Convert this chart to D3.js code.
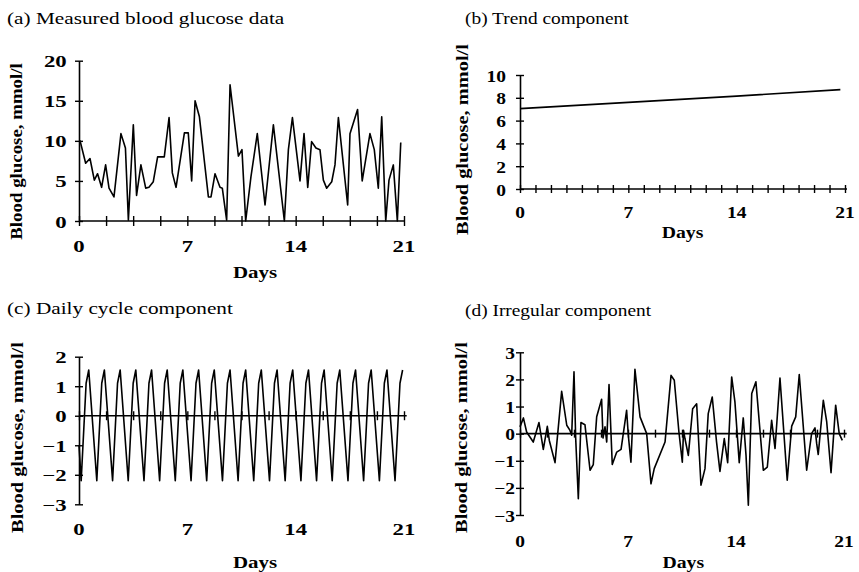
<!DOCTYPE html>
<html>
<head>
<meta charset="utf-8">
<script src="https://cdn.jsdelivr.net/npm/d3@7"></script>
<style>
  body { margin: 0; background: #fff; }
  svg { display: block; font-family: "Liberation Serif", "Times New Roman", serif; }
</style>
</head>
<body>
<svg id="chart" width="859" height="572"></svg>
<script>
// (a) measured readings
const measuredDays = [0, 0.07, 0.43, 0.71, 0.99, 1.2, 1.46, 1.72, 1.94, 2.26, 2.71, 3.0, 3.19, 3.51, 3.72,
  4.0, 4.31, 4.52, 4.8, 5.08, 5.51, 5.82, 6.03, 6.27, 6.81, 7.06, 7.28, 7.5, 7.78, 8.36,
  8.53, 8.79, 9.11, 9.26, 9.54, 9.76, 10.3, 10.53, 10.77, 11.11, 11.52, 12.02, 12.56, 13.27, 13.53,
  13.79, 14.28, 14.54, 14.78, 15.03, 15.31, 15.57, 15.79, 16.0, 16.33, 16.54, 16.76, 17.36, 17.51, 18.0,
  18.3, 18.8, 19.08, 19.34, 19.56, 19.82, 20.03, 20.31, 20.57, 20.79];
const measuredGlucose = [10, 10, 7.2, 7.8, 5.1, 5.9, 4.2, 7.0, 4.1, 3.0, 10.9, 9.1, 0.1, 12.0, 3.2,
  7.0, 4.1, 4.2, 4.9, 8.0, 8.0, 12.9, 6.0, 4.2, 11.0, 11.0, 5.0, 15.0, 13.0, 3.0,
  3.0, 5.9, 4.2, 4.1, 0.1, 17.0, 8.1, 8.9, 0, 5.5, 10.9, 2.0, 12.0, 0, 8.9,
  12.9, 5.0, 10.9, 4.2, 9.9, 9.1, 8.9, 5.1, 4.1, 4.9, 7.0, 12.9, 2.0, 10.9, 13.9,
  5.0, 10.9, 8.9, 4.1, 13.0, 0, 5.1, 7.0, 0, 9.8];

// (b) trend
const trendDays = [0, 7, 14, 20.7];
const trendGlucose = [7.05, 7.6, 8.15, 8.72];

// (c) daily cycle
const cycleDays = [0, 0.14, 0.46, 0.63, 1.15, 1.47, 1.64, 2.17, 2.49, 2.66, 3.18, 3.50, 3.67,
  4.20, 4.52, 4.69, 5.21, 5.53, 5.70, 6.22, 6.54, 6.71, 7.24, 7.56, 7.73, 8.25, 8.57, 8.74,
  9.27, 9.59, 9.76, 10.28, 10.60, 10.77, 11.29, 11.61, 11.78, 12.31, 12.63, 12.80,
  13.32, 13.64, 13.81, 14.34, 14.66, 14.83, 15.35, 15.67, 15.84, 16.36, 16.68, 16.85,
  17.38, 17.70, 17.87, 18.39, 18.71, 18.88, 19.41, 19.73, 19.90, 20.42, 20.74, 20.91];
const cycleGlucose = [-1.0, -2.2, 1.1, 1.55, -2.2, 1.1, 1.55, -2.2, 1.1, 1.55, -2.2, 1.1, 1.55,
  -2.2, 1.1, 1.55, -2.2, 1.1, 1.55, -2.2, 1.1, 1.55, -2.2, 1.1, 1.55, -2.2, 1.1, 1.55,
  -2.2, 1.1, 1.55, -2.2, 1.1, 1.55, -2.2, 1.1, 1.55, -2.2, 1.1, 1.55,
  -2.2, 1.1, 1.55, -2.2, 1.1, 1.55, -2.2, 1.1, 1.55, -2.2, 1.1, 1.55,
  -2.2, 1.1, 1.55, -2.2, 1.1, 1.55, -2.2, 1.1, 1.55, -2.2, 1.1, 1.55];

// (d) irregular component
const irregularDays = [0, 0.22, 0.43, 0.86, 1.23, 1.51, 1.77, 1.9, 2.27, 2.7, 3.03, 3.24, 3.35, 3.5, 3.61,
  3.78, 3.95, 4.21, 4.54, 4.75, 4.97, 5.29, 5.38, 5.51, 5.62, 5.77, 5.98, 6.27, 6.55, 6.91,
  7.02, 7.19, 7.45, 7.78, 8.21, 8.49, 8.7, 9.4, 9.79, 10.0, 10.3, 10.52, 10.6, 10.69, 10.91,
  11.19, 11.45, 11.73, 11.99, 12.2, 12.46, 12.74, 12.96, 13.24, 13.46, 13.72, 13.93, 14.21, 14.47, 14.65,
  14.8, 15.02, 15.29, 15.77, 16.03, 16.31, 16.53, 16.85, 17.32, 17.61, 17.87, 18.1, 18.58, 18.9, 19.12,
  19.23, 19.33, 19.66, 19.88, 20.16, 20.46, 20.69, 20.89];
const irregularGlucose = [0.25, 0.58, 0.06, -0.31, 0.41, -0.58, 0.27, -0.25, -1.07, 1.56, 0.31, 0.12, -0.06, 2.28, -0.18,
  -2.4, 0.41, 0.33, -1.35, -1.14, 0.62, 1.27, -0.16, 0.25, -0.31, 1.81, -1.14, -0.68, -0.58, 0.86,
  -0.06, -1.05, 2.37, 0.62, 0.0, -1.85, -1.29, -0.31, 2.15, 1.97, 0.06, -1.05, 0.12, -0.18, -0.8,
  0.92, 1.1, -1.9, -1.29, 0.74, 1.35, -0.31, -1.39, -0.18, -1.07, 2.09, 1.17, -1.07, 0.58, -0.8,
  -2.64, 1.48, 1.91, -1.35, -1.23, 0.49, -0.55, 2.05, -1.72, 0.28, 0.62, 2.18, -1.35, 0.0, 0.21,
  -0.37, -0.77, 1.23, 0.43, -1.44, 1.05, 0.0, -0.25];

const dayLabels = [0, 7, 14, 21];
const weekTicks = d3.range(0, 21.01, 1.75);
const dailyTicks = d3.range(0, 22, 1);

const svg = d3.select("#chart");

// text stretched sideways like the scanned original
function label(g, str, x, y, opts) {
  return g.append("text")
    .attr("transform", `translate(${x},${y}) rotate(${opts.rotate || 0}) scale(${opts.sx || 1},1)`)
    .attr("text-anchor", opts.anchor || "start")
    .attr("font-size", opts.size || 17)
    .attr("font-weight", opts.weight || "normal")
    .attr("fill", "#000")
    .text(str);
}

function drawPanel(p) {
  const x = d3.scaleLinear().domain([0, 21]).range(p.xRange);
  const y = d3.scaleLinear().domain(p.yDomain).range(p.yRange);
  const g = svg.append("g");

  // x axis on the zero line, ticks crossing it
  const xAxis = g.append("g")
    .attr("transform", `translate(0,${y(0)})`)
    .call(d3.axisBottom(x).tickValues(p.xTicks).tickFormat("").tickSizeOuter(0));
  xAxis.select(".domain").remove();
  xAxis.append("line")
    .attr("x1", x(0)).attr("x2", p.axisEnd)
    .attr("stroke", "#000").attr("stroke-width", 1.6);
  xAxis.selectAll(".tick line")
    .attr("y1", -p.xTickLen).attr("y2", p.xTickLen)
    .attr("stroke-width", 1.4);

  // y axis
  const yAxis = g.append("g")
    .attr("transform", `translate(${x(0)},0)`)
    .call(d3.axisLeft(y).tickValues(p.yTicks).tickFormat(d3.format("d"))
      .tickSizeOuter(0).tickSize(0).tickPadding(0))
    .attr("font-size", null).attr("font-family", null);
  yAxis.select(".domain").attr("stroke-width", 1.6);
  yAxis.selectAll(".tick line")
    .attr("x1", -4).attr("x2", 4)
    .attr("stroke-width", 1.4);
  yAxis.selectAll(".tick text")
    .attr("x", null).attr("dy", null)
    .attr("transform", `translate(${-p.yLabelGap},6) scale(${p.tickSx},1)`)
    .attr("font-size", 16.5)
    .attr("font-weight", "bold")
    .attr("fill", "#000");

  // day labels
  dayLabels.forEach(function (d) {
    label(g, d, x(d), p.xLabelY, { anchor: "middle", sx: p.tickSx, size: 16.5, weight: "bold" });
  });

  // the series
  const line = d3.line()
    .x(function (d) { return x(d[0]); })
    .y(function (d) { return y(d[1]); });
  g.append("path")
    .datum(d3.zip(p.days, p.values))
    .attr("fill", "none")
    .attr("stroke", "#000")
    .attr("stroke-width", 1.6)
    .attr("stroke-linejoin", "round")
    .attr("d", line);

  label(g, p.title, p.titleX, p.titleY, { sx: p.titleSx });
  label(g, "Days", p.daysX, p.daysY, { anchor: "middle", sx: p.daysSx, weight: "bold" });
  label(g, "Blood glucose, mmol/l", p.yTitleX, p.yTitleY,
    { anchor: "middle", rotate: -90, sx: p.yTitleSx, weight: "bold" });
}

drawPanel({
  title: "(a) Measured blood glucose data", titleX: 7, titleY: 24, titleSx: 1.25,
  days: measuredDays, values: measuredGlucose,
  xRange: [79, 404], yDomain: [0, 20], yRange: [221, 60.7], yTicks: [0, 5, 10, 15, 20],
  xTicks: weekTicks, axisEnd: 404, xTickLen: 5,
  xLabelY: 251.7, tickSx: 1.38, yLabelGap: 12.3,
  daysX: 255, daysY: 278, daysSx: 1.23,
  yTitleX: 22, yTitleY: 151.5, yTitleSx: 1.11
});

drawPanel({
  title: "(b) Trend component", titleX: 465, titleY: 24, titleSx: 1.14,
  days: trendDays, values: trendGlucose,
  xRange: [520, 845], yDomain: [0, 10], yRange: [189, 75], yTicks: [0, 2, 4, 6, 8, 10],
  xTicks: dailyTicks, axisEnd: 847, xTickLen: 4,
  xLabelY: 218, tickSx: 1.18, yLabelGap: 14,
  daysX: 682.5, daysY: 238.3, daysSx: 1.16,
  yTitleX: 467.5, yTitleY: 139.5, yTitleSx: 1.2
});

drawPanel({
  title: "(c) Daily cycle component", titleX: 7, titleY: 314, titleSx: 1.25,
  days: cycleDays, values: cycleGlucose,
  xRange: [79, 404], yDomain: [-3, 2], yRange: [504.3, 356.7], yTicks: [-3, -2, -1, 0, 1, 2],
  xTicks: weekTicks, axisEnd: 406.7, xTickLen: 4.5,
  xLabelY: 535, tickSx: 1.38, yLabelGap: 12.3,
  daysX: 255, daysY: 568, daysSx: 1.23,
  yTitleX: 22.7, yTitleY: 437.5, yTitleSx: 1.2
});

drawPanel({
  title: "(d) Irregular component", titleX: 465, titleY: 316, titleSx: 1.14,
  days: irregularDays, values: irregularGlucose,
  xRange: [520, 844], yDomain: [-3, 3], yRange: [515, 352.3], yTicks: [-3, -2, -1, 0, 1, 2, 3],
  xTicks: weekTicks, axisEnd: 846.7, xTickLen: 4,
  xLabelY: 547, tickSx: 1.18, yLabelGap: 5,
  daysX: 683.3, daysY: 568, daysSx: 1.16,
  yTitleX: 466.7, yTitleY: 437.5, yTitleSx: 1.2
});
</script>
</body>
</html>
